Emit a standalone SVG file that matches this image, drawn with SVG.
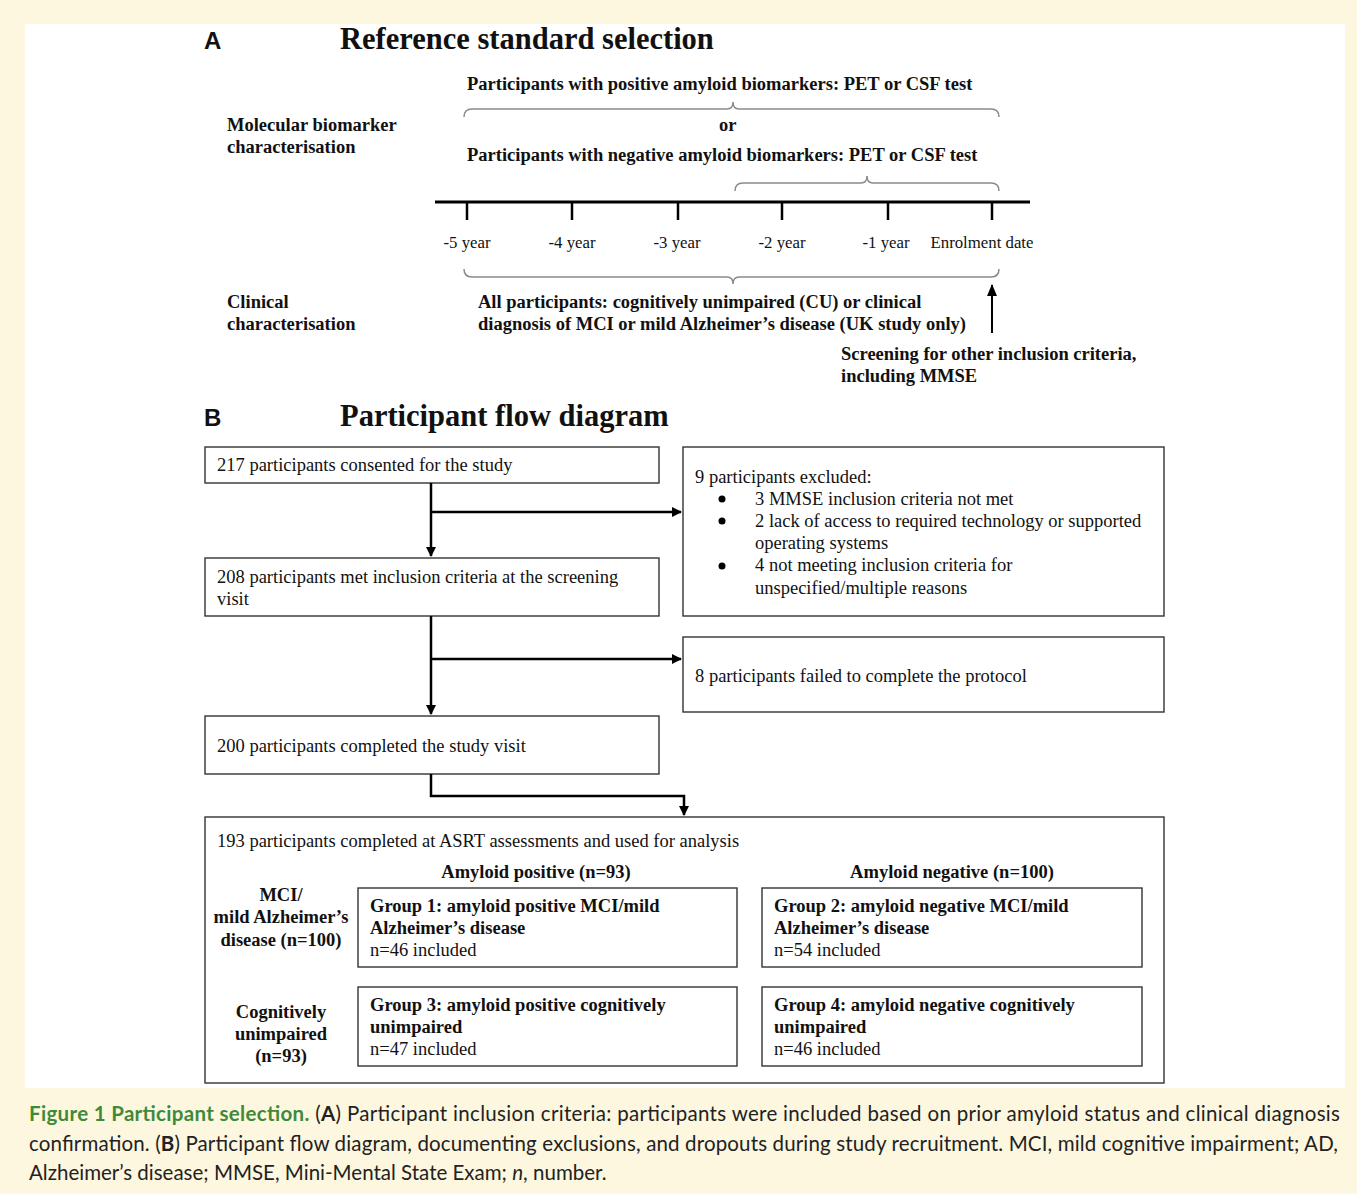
<svg xmlns="http://www.w3.org/2000/svg" width="1357" height="1194" viewBox="0 0 1357 1194">
<style>
.s{font-family:"Liberation Serif","Times New Roman",serif;fill:#111;}
.r{font-size:18.5px;}
.b{font-size:18.5px;font-weight:bold;}
.t{font-size:30.5px;font-weight:bold;}
.L{font-family:"Liberation Sans",Arial,sans-serif;font-size:24px;font-weight:bold;fill:#111;}
.yr{font-size:16.8px;}
.box{fill:none;stroke:#333;stroke-width:1.4;}
.brace{fill:none;stroke:#8a8a8a;stroke-width:1.5;}
.con{fill:none;stroke:#000;stroke-width:2.5;}
.cap{font-family:Lato,"Open Sans",sans-serif;font-size:20.5px;fill:#222;}
</style>
<defs>
<marker id="ah" viewBox="0 0 10 10" refX="9" refY="5" markerWidth="4" markerHeight="4" orient="auto">
<path d="M0,0 L10,5 L0,10 z" fill="#000"/>
</marker>
<marker id="ah2" viewBox="0 0 12 10" refX="11" refY="5" markerWidth="6" markerHeight="5" orient="auto">
<path d="M0,0 L12,5 L0,10 z" fill="#000"/>
</marker>
</defs>
<rect x="0" y="0" width="1357" height="1194" fill="#fdf7df"/>
<rect x="25" y="24" width="1320" height="1064" fill="#ffffff"/>

<g id="partA">
<text class="L" x="204" y="49">A</text>
<text class="s t" x="340" y="49">Reference standard selection</text>
<text class="s b" x="227" y="131">Molecular biomarker</text>
<text class="s b" x="227" y="153">characterisation</text>
<text class="s b" x="467" y="90">Participants with positive amyloid biomarkers: PET or CSF test</text>
<path class="brace" d="M464,117 Q464,109 472,109 L727,109 Q733,109 733,102 Q733,109 739,109 L991,109 Q999,109 999,117"/>
<text class="s b" x="719" y="131">or</text>
<text class="s b" x="467" y="161">Participants with negative amyloid biomarkers: PET or CSF test</text>
<path class="brace" d="M735,191 Q735,183 743,183 L861,183 Q867,183 867,176 Q867,183 873,183 L991,183 Q999,183 999,191"/>
<g id="timeline">
<line x1="435" y1="202" x2="1030" y2="202" stroke="#000" stroke-width="3"/>
<g stroke="#000" stroke-width="2.5">
<line x1="467" y1="202" x2="467" y2="220"/>
<line x1="572" y1="202" x2="572" y2="220"/>
<line x1="678" y1="202" x2="678" y2="220"/>
<line x1="782" y1="202" x2="782" y2="220"/>
<line x1="888" y1="202" x2="888" y2="220"/>
<line x1="992" y1="202" x2="992" y2="220"/>
</g>
<g class="s yr" text-anchor="middle">
<text x="467" y="248">-5 year</text>
<text x="572" y="248">-4 year</text>
<text x="677" y="248">-3 year</text>
<text x="782" y="248">-2 year</text>
<text x="886" y="248">-1 year</text>
<text x="982" y="248">Enrolment date</text>
</g>
</g>
<path class="brace" d="M464,269 Q464,277 472,277 L727,277 Q733,277 733,284 Q733,277 739,277 L991,277 Q999,277 999,269"/>
<text class="s b" x="227" y="308">Clinical</text>
<text class="s b" x="227" y="330">characterisation</text>
<text class="s b" x="478" y="308">All participants: cognitively unimpaired (CU) or clinical</text>
<text class="s b" x="478" y="330">diagnosis of MCI or mild Alzheimer’s disease (UK study only)</text>
<line x1="992" y1="333" x2="992" y2="285" stroke="#000" stroke-width="2" marker-end="url(#ah2)"/>
<text class="s b" x="841" y="360">Screening for other inclusion criteria,</text>
<text class="s b" x="841" y="382">including MMSE</text>
</g>

<g id="partB">
<text class="L" x="204" y="426">B</text>
<text class="s t" x="340" y="426">Participant flow diagram</text>

<g id="consented">
<rect class="box" x="205" y="447" width="454" height="36"/>
<text class="s r" x="217" y="471">217 participants consented for the study</text>
</g>
<g id="excluded">
<rect class="box" x="683" y="447" width="481" height="169"/>
<text class="s r" x="695" y="483">9 participants excluded:</text>
<g fill="#000"><circle cx="722" cy="499" r="3.5"/><circle cx="722" cy="521" r="3.5"/><circle cx="722" cy="566" r="3.5"/></g>
<text class="s r" x="755" y="505">3 MMSE inclusion criteria not met</text>
<text class="s r" x="755" y="527">2 lack of access to required technology or supported</text>
<text class="s r" x="755" y="549">operating systems</text>
<text class="s r" x="755" y="571">4 not meeting inclusion criteria for</text>
<text class="s r" x="755" y="594">unspecified/multiple reasons</text>
</g>
<g id="screening">
<rect class="box" x="205" y="558" width="454" height="58"/>
<text class="s r" x="217" y="583">208 participants met inclusion criteria at the screening</text>
<text class="s r" x="217" y="605">visit</text>
</g>
<g id="failed">
<rect class="box" x="683" y="637" width="481" height="75"/>
<text class="s r" x="695" y="682">8 participants failed to complete the protocol</text>
</g>
<g id="completed">
<rect class="box" x="205" y="716" width="454" height="58"/>
<text class="s r" x="217" y="752">200 participants completed the study visit</text>
</g>
<g id="analysis">
<rect class="box" x="205" y="817" width="959" height="266"/>
<text class="s r" x="217" y="847">193 participants completed at ASRT assessments and used for analysis</text>
<text class="s b" x="536" y="878" text-anchor="middle">Amyloid positive (n=93)</text>
<text class="s b" x="952" y="878" text-anchor="middle">Amyloid negative (n=100)</text>
<g class="s b" text-anchor="middle">
<text x="281" y="901">MCI/</text>
<text x="281" y="923">mild Alzheimer’s</text>
<text x="281" y="946">disease (n=100)</text>
<text x="281" y="1018">Cognitively</text>
<text x="281" y="1040">unimpaired</text>
<text x="281" y="1062">(n=93)</text>
</g>
</g>
<g id="group1">
<rect class="box" x="358" y="888" width="379" height="79"/>
<text class="s b" x="370" y="912">Group 1: amyloid positive MCI/mild</text>
<text class="s b" x="370" y="934">Alzheimer’s disease</text>
<text class="s r" x="370" y="956">n=46 included</text>
</g>
<g id="group2">
<rect class="box" x="762" y="888" width="380" height="79"/>
<text class="s b" x="774" y="912">Group 2: amyloid negative MCI/mild</text>
<text class="s b" x="774" y="934">Alzheimer’s disease</text>
<text class="s r" x="774" y="956">n=54 included</text>
</g>
<g id="group3">
<rect class="box" x="358" y="987" width="379" height="79"/>
<text class="s b" x="370" y="1011">Group 3: amyloid positive cognitively</text>
<text class="s b" x="370" y="1033">unimpaired</text>
<text class="s r" x="370" y="1055">n=47 included</text>
</g>
<g id="group4">
<rect class="box" x="762" y="987" width="380" height="79"/>
<text class="s b" x="774" y="1011">Group 4: amyloid negative cognitively</text>
<text class="s b" x="774" y="1033">unimpaired</text>
<text class="s r" x="774" y="1055">n=46 included</text>
</g>

<g id="connectors">
<line class="con" x1="431" y1="483" x2="431" y2="556" marker-end="url(#ah)"/>
<line class="con" x1="431" y1="512" x2="681" y2="512" marker-end="url(#ah)"/>
<line class="con" x1="431" y1="616" x2="431" y2="714" marker-end="url(#ah)"/>
<line class="con" x1="431" y1="659" x2="681" y2="659" marker-end="url(#ah)"/>
<path class="con" d="M431,774 L431,796 L684,796 L684,815" marker-end="url(#ah)"/>
</g>
</g>

<g id="caption">
<text class="cap" x="29" y="1121" textLength="1311" lengthAdjust="spacing"><tspan font-weight="bold" fill="#3f8a3a">Figure 1 Participant selection.</tspan> (<tspan font-weight="bold">A</tspan>) Participant inclusion criteria: participants were included based on prior amyloid status and clinical diagnosis</text>
<text class="cap" x="29" y="1151" textLength="1309" lengthAdjust="spacing">confirmation. (<tspan font-weight="bold">B</tspan>) Participant flow diagram, documenting exclusions, and dropouts during study recruitment. MCI, mild cognitive impairment; AD,</text>
<text class="cap" x="29" y="1180">Alzheimer’s disease; MMSE, Mini-Mental State Exam; <tspan font-style="italic">n</tspan>, number.</text>
</g>
</svg>
